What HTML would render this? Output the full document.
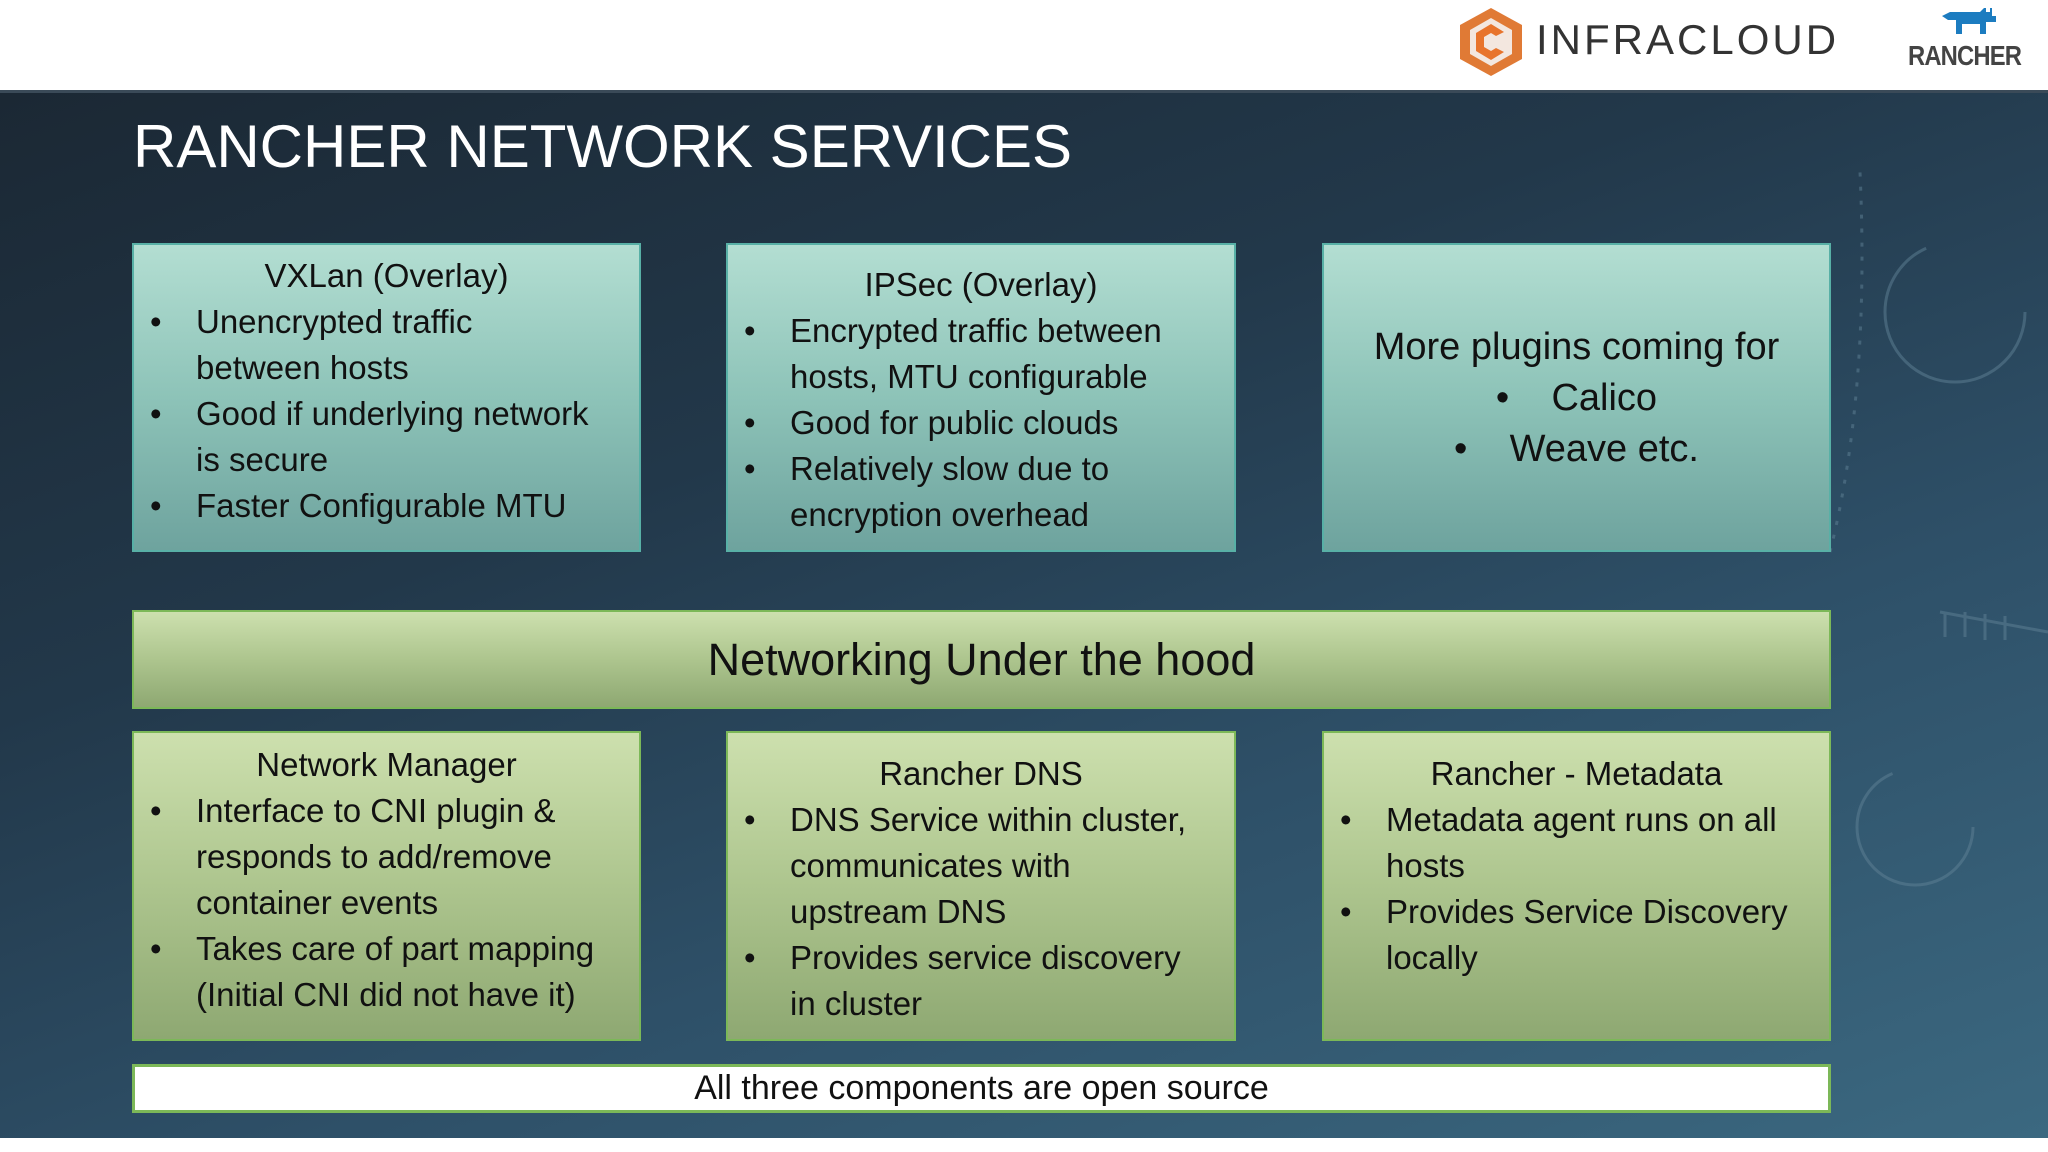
<!DOCTYPE html>
<html><head><meta charset="utf-8"><style>
*{margin:0;padding:0;box-sizing:border-box}
html,body{width:2048px;height:1152px;overflow:hidden}
body{background:#fff;font-family:"Liberation Sans",sans-serif;position:relative}
.bg{position:absolute;left:0;top:92px;width:2048px;height:1046px;background:linear-gradient(160deg,#1b2834 0%,#22384a 35%,#2e5068 65%,#3b6880 100%)}
.hdrline{position:absolute;left:0;top:90px;width:2048px;height:3px;background:#3a4a58}
.title{position:absolute;left:133px;top:112px;color:#fff;font-size:60px;white-space:nowrap}
.box{position:absolute;color:#111;font-size:33px;line-height:46px;white-space:nowrap;overflow:hidden}
.t{background:linear-gradient(180deg,#b3ded2 0%,#8dc3b8 50%,#6ea39e 100%);border:2px solid #58b0a6}
.g{background:linear-gradient(180deg,#cde0ae 0%,#adc58e 50%,#8ea872 100%);border:2px solid #7cb858}
.box .h{text-align:center}
.box ul{list-style:none}
.box li{position:relative;padding-left:62px}
.box li:before{content:"•";position:absolute;left:16px}
</style></head><body>
<div class="bg"></div>
<svg style="position:absolute;left:0;top:92px" width="2048" height="1046">
<g fill="none" stroke="#5f8196" stroke-opacity="0.5" stroke-width="3">
<circle cx="1955" cy="220" r="70" stroke-dasharray="300 140"/>
<circle cx="1915" cy="735" r="58" stroke-dasharray="250 120"/>
<circle cx="60" cy="1070" r="80" stroke-dasharray="200 300"/>
<path d="M1830 460 Q1870 300 1860 80" stroke-dasharray="4 10"/>
<path d="M1940 520 L2048 540 M1945 520 L1945 545 M1965 520 L1965 545 M1985 522 L1985 548 M2005 524 L2005 548"/>
</g></svg>
<div class="hdrline"></div>
<svg style="position:absolute;left:1456px;top:6px" width="70" height="72" viewBox="0 0 70 72">
<polygon points="35,2 66,19 66,53 35,70 4,53 4,19" fill="#e07a35"/>
<polygon points="35,12 56,24 56,48 35,60 14,48 14,24" fill="#f3e7df"/>
<path d="M48 26 L35 18 L20 27 L20 45 L35 54 L48 46 L40 42 L35 45 L28 41 L28 31 L35 27 L40 30 Z" fill="#e8742c"/>
</svg>
<div style="position:absolute;left:1536px;top:16px;font-size:42px;color:#333;letter-spacing:3px">INFRACLOUD</div>
<svg style="position:absolute;left:1940px;top:8px" width="60" height="28" viewBox="0 0 60 28">
<path d="M2 8 L10 4 L40 4 L44 0 L46 0 L46 4 L50 4 L50 0 L52 0 L52 8 L56 8 L56 14 L46 14 L46 26 L40 26 L40 16 L22 16 L22 26 L16 26 L16 12 L8 12 Z" fill="#1c7cc0"/>
</svg>
<div style="position:absolute;left:1908px;top:40px;font-size:28px;font-weight:bold;color:#444;transform:scaleX(0.85);transform-origin:left;letter-spacing:-1px">RANCHER</div>
<div class="title">RANCHER NETWORK SERVICES</div>

<div class="box t" style="left:132px;top:243px;width:509px;height:309px;padding-top:8px">
<div class="h">VXLan (Overlay)</div>
<ul><li>Unencrypted traffic<br>between hosts</li><li>Good if underlying network<br>is secure</li><li>Faster Configurable MTU</li></ul></div>
<div class="box t" style="left:726px;top:243px;width:510px;height:309px;padding-top:17px">
<div class="h">IPSec (Overlay)</div>
<ul><li>Encrypted traffic between<br>hosts, MTU configurable</li><li>Good for public clouds</li><li>Relatively slow due to<br>encryption overhead</li></ul></div>
<div class="box t" style="left:1322px;top:243px;width:509px;height:309px;padding-top:77px;font-size:38px;line-height:51px">
<div class="h">More plugins coming for</div>
<div class="h">• &nbsp;&nbsp;&nbsp;Calico</div>
<div class="h">• &nbsp;&nbsp;&nbsp;Weave etc.</div></div>

<div class="box g" style="left:132px;top:610px;width:1699px;height:99px;font-size:45px;line-height:95px;text-align:center">Networking Under the hood</div>

<div class="box g" style="left:132px;top:731px;width:509px;height:310px;padding-top:9px">
<div class="h">Network Manager</div>
<ul><li>Interface to CNI plugin &amp;<br>responds to add/remove<br>container events</li><li>Takes care of part mapping<br>(Initial CNI did not have it)</li></ul></div>
<div class="box g" style="left:726px;top:731px;width:510px;height:310px;padding-top:18px">
<div class="h">Rancher DNS</div>
<ul><li>DNS Service within cluster,<br>communicates with<br>upstream DNS</li><li>Provides service discovery<br>in cluster</li></ul></div>
<div class="box g" style="left:1322px;top:731px;width:509px;height:310px;padding-top:18px">
<div class="h">Rancher - Metadata</div>
<ul><li>Metadata agent runs on all<br>hosts</li><li>Provides Service Discovery<br>locally</li></ul></div>

<div class="box" style="left:132px;top:1064px;width:1699px;height:49px;background:#fff;border:3px solid #7cb858;font-size:34px;line-height:43px;text-align:center">All three components are open source</div>
</body></html>
